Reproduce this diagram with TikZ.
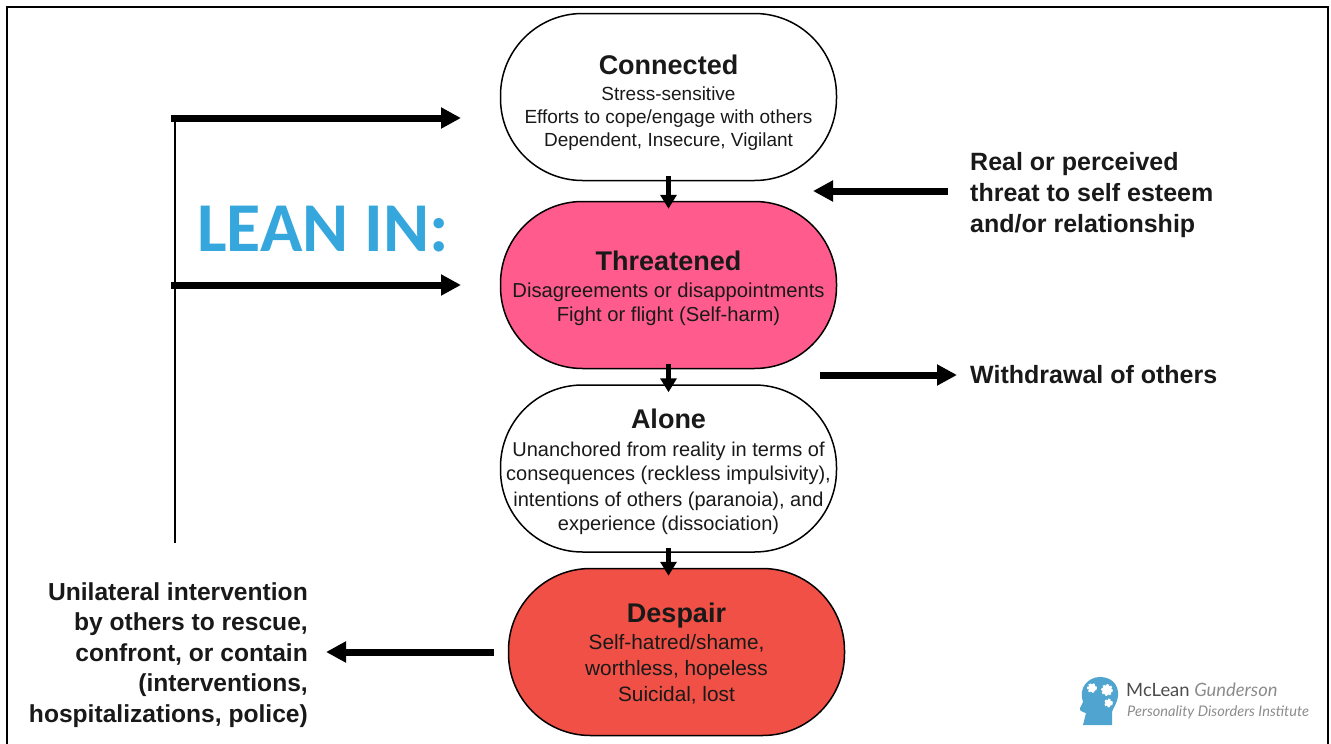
\documentclass[tikz,border=0pt]{standalone}
\usepackage{fontspec}
\setmainfont{Liberation Sans}
\newfontfamily\leanfont{Carlito}
\newfontfamily\logofont{Lato}
\usetikzlibrary{arrows.meta}
\definecolor{threatpink}{HTML}{FF5C8D}
\definecolor{despairred}{HTML}{F05045}
\definecolor{leanblue}{HTML}{35A7DC}
\definecolor{logoblue}{HTML}{4FA5CF}
\newcommand{\titlefont}{\fontsize{27}{30}\selectfont\bfseries}
\tikzset{
  state/.style={shape=rectangle,draw=black,line width=1.5pt,minimum width=336pt,minimum height=167pt,rounded corners=82pt},
  statetext/.style={align=center,inner sep=0pt,text=black!90},
  flow/.style={-{Triangle[length=14pt,width=16pt]},line width=5pt,shorten <=-5pt,shorten >=-8pt},
  bigarrow/.style={-{Triangle[length=20pt,width=20pt]},line width=7pt},
  sidelabel/.style={font=\fontsize{25}{31}\selectfont\bfseries,inner sep=0pt,text=black!90},
  gear/.style={fill=white,draw=white,line width=2pt,dash pattern=on 2.2pt off 1.6pt}
}
\begin{document}
\begin{tikzpicture}[x=1pt,y=-1pt]
    \useasboundingbox (0,0) rectangle (1331,744);
    \draw [line width=2pt] (6.5,744) -- (6.5,6.5) -- (1328,6.5) -- (1328,744);

    \node[state] (connected) at (668.5,97) {};
    \node[state,fill=threatpink] (threatened) at (668.5,285) {};
    \node[state] (alone) at (668.5,468.5) {};
    \node[state,fill=despairred] (despair) at (676.5,652) {};

    \node[statetext,font=\fontsize{19}{23}\selectfont] (connectedtext) at (668.5,103) {{\titlefont Connected}\\[3pt]Stress-sensitive\\Efforts to cope/engage with others\\Dependent, Insecure, Vigilant};
    \node[statetext,font=\fontsize{20.2}{24}\selectfont] (threatenedtext) at (668.5,288.5) {{\titlefont Threatened}\\[3pt]Disagreements or disappointments\\Fight or flight (Self-harm)};
    \node[statetext,font=\fontsize{20}{24}\selectfont] (alonetext) at (668.5,472) {{\titlefont Alone}\\[4pt]Unanchored from reality in terms of\\consequences (reckless impulsivity),\\[2pt]intentions of others (paranoia), and\\experience (dissociation)};
    \node[statetext,font=\fontsize{20.8}{26}\selectfont] (despairtext) at (676.5,653.5) {{\titlefont Despair}\\[1pt]Self-hatred/shame,\\worthless, hopeless\\Suicidal, lost};

    \path [flow] (connected) edge (threatened);
    \path [flow] (threatened) edge (alone);
    \path [flow] (alone.south) edge (alone.south |- despair.north);

    \node[font=\leanfont\fontsize{70}{70}\selectfont\bfseries,text=leanblue,inner sep=0pt] (leanin) at (323,229) {LEAN IN:};
    \node[sidelabel,align=left,anchor=west] (threat) at (970,195.5) {Real or perceived\\threat to self esteem\\and/or relationship};
    \node[sidelabel,anchor=west] (withdrawal) at (970,375) {Withdrawal of others};
    \node[sidelabel,align=right,anchor=east,font=\fontsize{24.6}{30.5}\selectfont\bfseries] (unilateral) at (308,655) {Unilateral intervention\\by others to rescue,\\confront, or contain\\(interventions,\\hospitalizations, police)};

    \coordinate (leantop) at (171,118);
    \coordinate (leantopend) at (461,118);
    \coordinate (leanmid) at (171,285);
    \coordinate (leanmidend) at (461,285);
    \coordinate (leanfoot) at (174.5,543);
    \coordinate (threatstart) at (948,191);
    \coordinate (threatend) at (813,191);
    \coordinate (withdrawstart) at (820,375);
    \coordinate (withdrawend) at (957,375);
    \coordinate (despairstart) at (494,652);
    \coordinate (despairend) at (326,652);

    \draw [line width=2pt] (leantop -| leanfoot) -- (leanfoot);
    \path [bigarrow] (leantop) edge (leantopend);
    \path [bigarrow] (leanmid) edge (leanmidend);
    \path [bigarrow] (threatstart) edge (threatend);
    \path [bigarrow] (withdrawstart) edge (withdrawend);
    \path [bigarrow] (despairstart) edge (despairend);

    % logo
    \fill [logoblue] (1083,725) -- (1086,713) .. controls (1083,712) and (1079,711) .. (1080,708) -- (1083,702) .. controls (1078,688) and (1088,677) .. (1100,677) .. controls (1112,677) and (1119,685) .. (1118,696) .. controls (1117,704) and (1113,708) .. (1112,712) -- (1112,725) -- cycle;
    \foreach \gx/\gy/\gr in {1092/688/4,1107/690/5,1108.5/703/3.4}
        \draw [gear] (\gx,\gy) circle (\gr);
    \node[font=\logofont\fontsize{18.4}{18}\selectfont,text=black!70,inner sep=0pt,anchor=west] (logotop) at (1126,690) {McLean \textcolor{black!45}{\itshape Gunderson}};
    \node[font=\logofont\fontsize{14.6}{15}\selectfont\itshape,text=black!45,inner sep=0pt,anchor=west] (logobottom) at (1127,712) {Personality Disorders Institute};
\end{tikzpicture}
\end{document}
